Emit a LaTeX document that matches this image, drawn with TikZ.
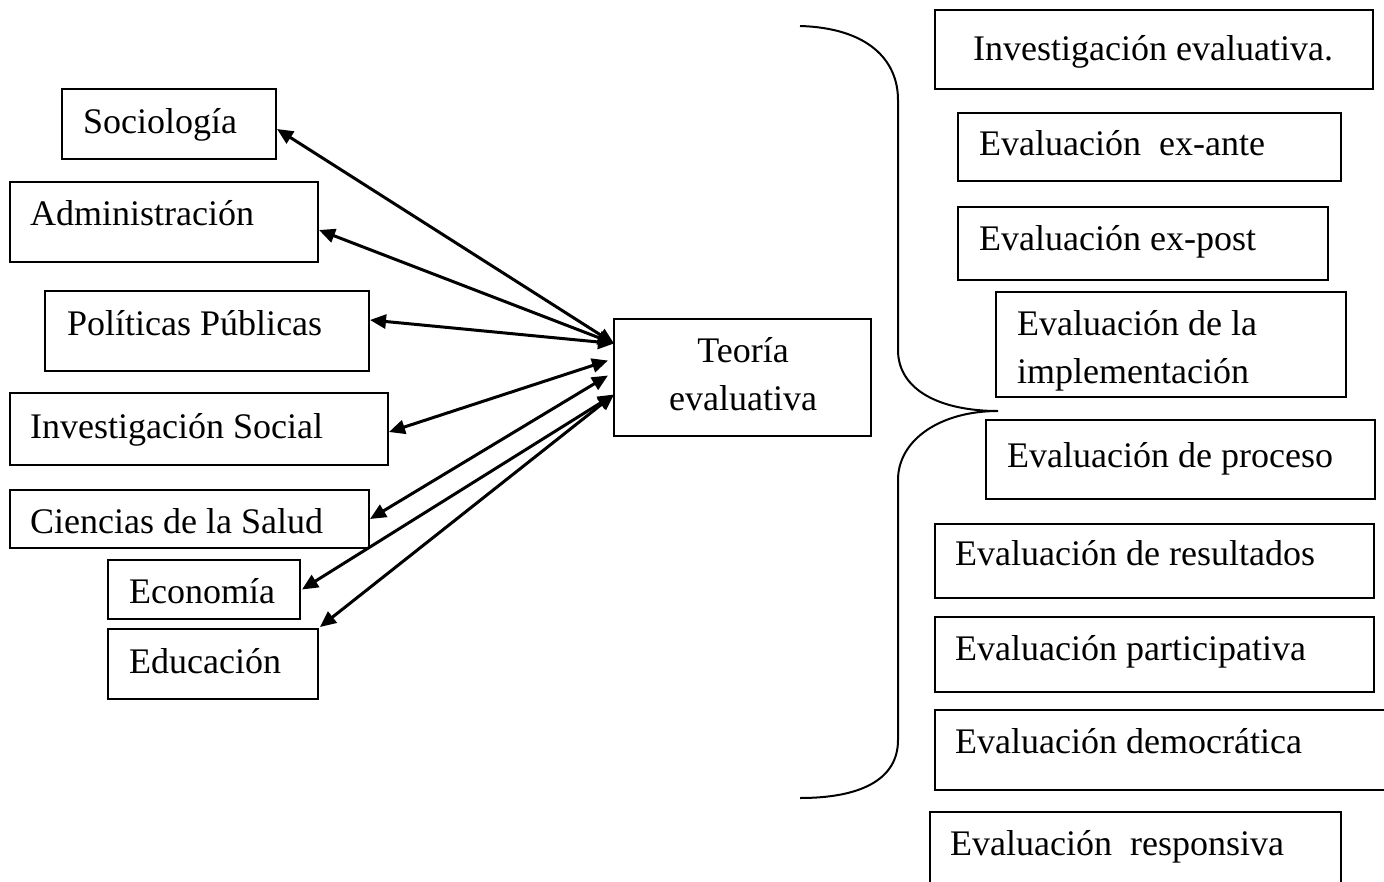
\documentclass[tikz,border=0pt]{standalone}
\usepackage{fontspec}
\setmainfont{Liberation Serif}
\usetikzlibrary{arrows.meta}
\begin{document}
\begin{tikzpicture}[x=1pt,y=-1pt,
  box/.style={draw,line width=1.9pt,anchor=north west,inner sep=0pt,outer sep=0pt},
  lbl/.style={anchor=base west,inner sep=0pt,font=\fontsize{36}{48}\selectfont},
  clbl/.style={anchor=base,inner sep=0pt,font=\fontsize{36}{48}\selectfont},
  dbl/.style={line width=3pt,{Triangle[length=16pt,width=14pt]}-{Triangle[length=16pt,width=14pt]}},
  brace/.style={line width=2pt}]
\useasboundingbox (0,0) rectangle (1384,881);
\clip (0,0) rectangle (1384,881);
% left boxes
\node[box,minimum width=214pt,minimum height=70pt] (soc) at (62,89) {};
\node[box,minimum width=308pt,minimum height=80pt] (adm) at (10,182) {};
\node[box,minimum width=324pt,minimum height=80pt] (pol) at (45,291) {};
\node[box,minimum width=378pt,minimum height=72pt] (inv) at (10,393) {};
\node[box,minimum width=359pt,minimum height=58pt] (cie) at (10,490) {};
\node[box,minimum width=192pt,minimum height=59pt] (eco) at (108,560) {};
\node[box,minimum width=210pt,minimum height=70pt] (edu) at (108,629) {};
\node[box,minimum width=257pt,minimum height=117pt] (teo) at (614,319) {};
% left texts
\node[lbl] (soc-t) at (83,133) {Sociología};
\node[lbl] (adm-t) at (30,225) {Administración};
\node[lbl] (pol-t) at (67,335) {Políticas Públicas};
\node[lbl] (inv-t) at (30,438) {Investigación Social};
\node[lbl] (cie-t) at (30,533) {Ciencias de la Salud};
\node[lbl] (eco-t) at (129,603) {Economía};
\node[lbl] (edu-t) at (129,673) {Educación};
\node[clbl] (teo-t1) at (743,362) {Teoría};
\node[clbl] (teo-t2) at (743,410) {evaluativa};
% right boxes
\node[box,minimum width=438pt,minimum height=79pt] (r1) at (935,10) {};
\node[box,minimum width=383pt,minimum height=68pt] (r2) at (958,113) {};
\node[box,minimum width=370pt,minimum height=73pt] (r3) at (958,207) {};
\node[box,minimum width=350pt,minimum height=105pt] (r4) at (996,292) {};
\node[box,minimum width=389pt,minimum height=79pt] (r5) at (986,420) {};
\node[box,minimum width=439pt,minimum height=74pt] (r6) at (935,524) {};
\node[box,minimum width=439pt,minimum height=75pt] (r7) at (935,617) {};
\node[box,minimum width=470pt,minimum height=80pt] (r8) at (935,710) {};
\node[box,minimum width=411pt,minimum height=100pt] (r9) at (930,812) {};
% right texts
\node[lbl] (r1-t) at (973,60) {Investigación evaluativa.};
\node[lbl] (r2-t) at (979,155) {Evaluación~ ex-ante};
\node[lbl] (r3-t) at (979,250) {Evaluación ex-post};
\node[lbl] (r4-t1) at (1017,335) {Evaluación de la};
\node[lbl] (r4-t2) at (1017,383) {implementación};
\node[lbl] (r5-t) at (1007,467) {Evaluación de proceso};
\node[lbl] (r6-t) at (955,565) {Evaluación de resultados};
\node[lbl] (r7-t) at (955,660) {Evaluación participativa};
\node[lbl] (r8-t) at (955,753) {Evaluación democrática};
\node[lbl] (r9-t) at (950,855) {Evaluación~ responsiva};
% arrows
\draw[dbl] ([xshift=1pt,yshift=-5pt]soc.east) -- ([yshift=34pt]teo.west);
\draw[dbl] ([xshift=1pt,yshift=-8pt]adm.east) -- ([yshift=34pt]teo.west);
\draw[dbl] ([xshift=1pt,yshift=11pt]pol.east) -- ([yshift=34pt]teo.west);
\draw[dbl] ([xshift=1pt,yshift=-3pt]inv.east) -- ([xshift=-6pt,yshift=17pt]teo.west);
\draw[dbl] ([xshift=1pt]cie.east) -- ([xshift=-6pt,yshift=2pt]teo.west);
\draw[dbl] ([xshift=2pt]eco.east) -- ([yshift=-17pt]teo.west);
\draw[dbl] ([xshift=2pt,yshift=2pt]edu.north east) -- ([yshift=-17pt]teo.west);
% brace
\coordinate (btip) at (998,411);
\draw[brace] (800,26) .. controls (868,28) and (898,60) .. (898,100) -- (898,350)
  .. controls (898,390) and (940,411) .. (btip)
  .. controls (940,411) and (898,440) .. (898,480) -- (898,740)
  .. controls (898,780) and (860,798) .. (800,798);
\end{tikzpicture}
\end{document}
